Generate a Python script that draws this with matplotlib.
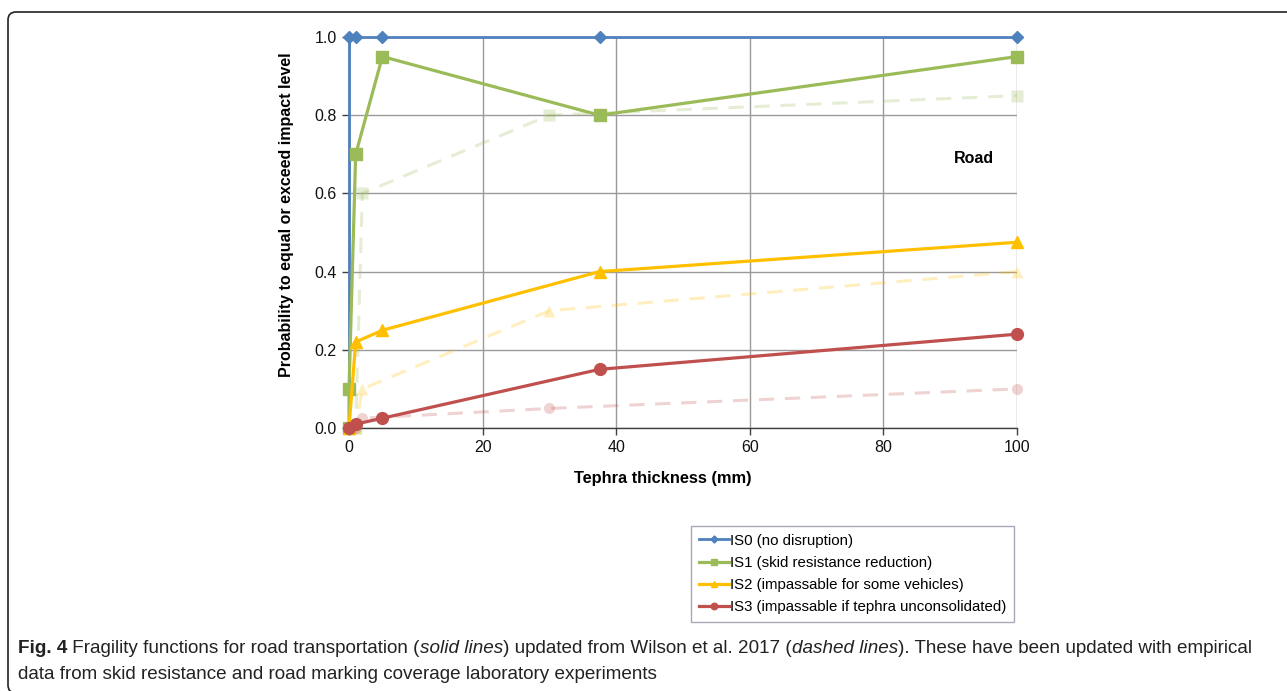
import matplotlib
matplotlib.use("Agg")
import matplotlib.pyplot as plt
from matplotlib.patches import FancyBboxPatch

# Tephra thickness (mm) and probability for each impact state
# updated functions (solid)
is0_x = [0, 0, 1, 5, 37.5, 100]
is0_y = [0, 1.0, 1.0, 1.0, 1.0, 1.0]
is1_x = [0, 0, 1, 5, 37.5, 100]
is1_y = [0, 0.1, 0.7, 0.95, 0.8, 0.95]
is2_x = [0, 1, 5, 37.5, 100]
is2_y = [0, 0.22, 0.25, 0.4, 0.475]
is3_x = [0, 1, 5, 37.5, 100]
is3_y = [0, 0.01, 0.025, 0.15, 0.24]

# Wilson et al. 2017 functions (dashed)
old_x = [0, 1, 2, 30, 100]
old1_y = [0, 0, 0.6, 0.8, 0.85]
old2_y = [0, 0, 0.1, 0.3, 0.4]
old3_y = [0, 0, 0.025, 0.05, 0.1]

labels = ["IS0 (no disruption)",
          "IS1 (skid resistance reduction)",
          "IS2 (impassable for some vehicles)",
          "IS3 (impassable if tephra unconsolidated)"]

BLUE = "#4F81BD"
GREEN = "#9BBB59"
YELLOW = "#FFC000"
RED = "#C0504D"

plt.rcParams['font.family'] = ['Liberation Sans', 'DejaVu Sans']

W, H = 1287, 691
fig = plt.figure(figsize=(W / 100, H / 100), dpi=100)
ax = fig.add_axes([349 / W, 1 - 428 / H, 668 / W, 391 / H])

# old curves, faded and dashed, drawn underneath
for y, c, m in [(old1_y, GREEN, "s"), (old2_y, YELLOW, "^"), (old3_y, RED, "o")]:
    ax.plot(old_x, y, color=c, alpha=0.25, lw=2.2, ls=(0, (5, 3.5)),
            marker=m, ms=8, mec="none", clip_on=False, zorder=2)

# updated curves
ax.plot(is0_x, is0_y, color=BLUE, lw=2.0, marker="D", ms=6.5, markevery=[1, 2, 3, 4, 5],
        clip_on=False, zorder=3, label=labels[0])
ax.plot(is1_x, is1_y, color=GREEN, lw=2.3, marker="s", ms=8,
        clip_on=False, zorder=4, label=labels[1])
ax.plot(is2_x, is2_y, color=YELLOW, lw=2.3, marker="^", ms=9,
        clip_on=False, zorder=5, label=labels[2])
ax.plot(is3_x, is3_y, color=RED, lw=2.3, marker="o", ms=8.5,
        clip_on=False, zorder=6, label=labels[3])

ax.set_xlim(0, 100)
ax.set_ylim(0, 1.0)
ax.set_xticks([0, 20, 40, 60, 80, 100])
ax.set_yticks([0, 0.2, 0.4, 0.6, 0.8, 1.0])
ax.set_yticklabels(["0.0", "0.2", "0.4", "0.6", "0.8", "1.0"])
ax.grid(True, color="#9a9a9a", lw=1.0)
ax.set_axisbelow(True)
for s in ["top", "right"]:
    ax.spines[s].set_visible(False)
for s in ["left", "bottom"]:
    ax.spines[s].set_color("#404040")
    ax.spines[s].set_linewidth(1.0)
ax.tick_params(direction="out", length=5, width=1, color="#404040",
               labelsize=11.5, labelcolor="#111111", pad=4)

ax.set_xlabel("Tephra thickness (mm)", fontsize=11.8, fontweight="bold")
ax.xaxis.set_label_coords((663 - 349) / 668, -(471 - 428) / 391)
ax.set_ylabel("Probability to equal or exceed impact level", fontsize=11.5,
              fontweight="bold")
ax.yaxis.set_label_coords(-(349 - 294) / 668, (428 - 215) / 391)
ax.text(96.5, 0.69, "Road", fontsize=11.5, fontweight="bold", ha="right", va="center")

handles, labs = ax.get_legend_handles_labels()
leg = fig.legend(handles, labs,
                 loc="upper left", bbox_to_anchor=(691 / W, 1 - 526 / H),
                 borderaxespad=0, fontsize=10.8, frameon=True, fancybox=False,
                 edgecolor="#9990aa", handlelength=2.0, handletextpad=0.1,
                 labelspacing=0.55, borderpad=0.5, markerscale=0.55)
leg.get_frame().set_linewidth(1.0)

# rounded outer frame (pixel coordinates)
frame = FancyBboxPatch((8, -2), 1320, H - 12 + 2, boxstyle="round,pad=0,rounding_size=8",
                       transform=None, fill=False, ec="#222222", lw=1.2)
fig.patches.append(frame)

# caption built from styled pieces
fig.canvas.draw()
renderer = fig.canvas.get_renderer()


def caption_line(pieces, x, y):
    for txt, weight, style in pieces:
        t = fig.text(x / W, 1 - y / H, txt, fontsize=13.55, fontweight=weight,
                     fontstyle=style, va="baseline", color="#222222")
        bb = t.get_window_extent(renderer)
        x += bb.width


caption_line([("Fig. 4", "bold", "normal"),
              (" Fragility functions for road transportation (", "normal", "normal"),
              ("solid lines", "normal", "italic"),
              (") updated from Wilson et al. 2017 (", "normal", "normal"),
              ("dashed lines", "normal", "italic"),
              ("). These have been updated with empirical", "normal", "normal")],
             18, 653)
caption_line([("data from skid resistance and road marking coverage laboratory experiments",
               "normal", "normal")], 18, 679)

fig.savefig("out.png", dpi=100)
